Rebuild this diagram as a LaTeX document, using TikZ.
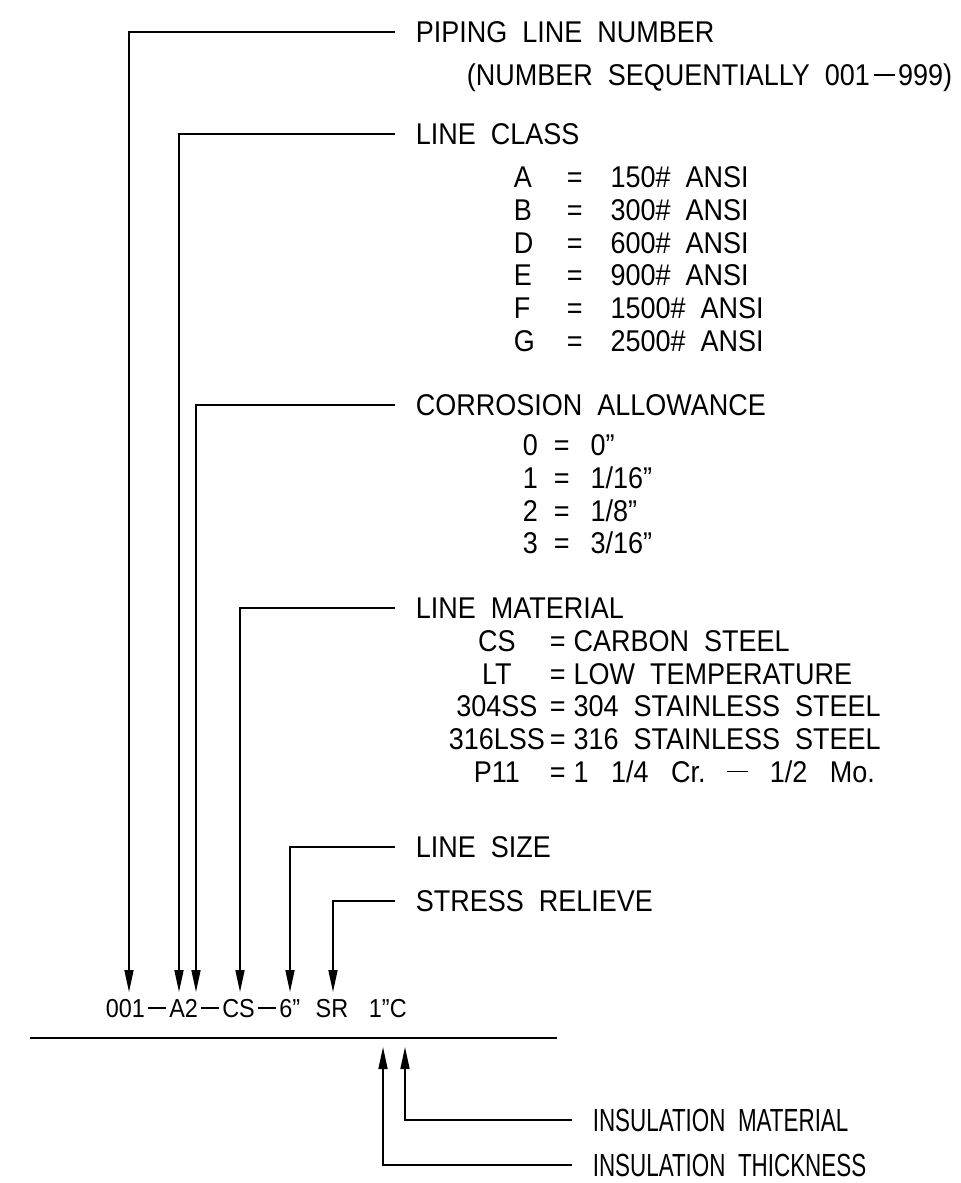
\documentclass[tikz,border=0pt]{standalone}
\usepackage{fontspec}
\setmainfont{Liberation Sans}[FakeStretch=0.9, WordSpace=2]
\newfontfamily\narrowfont{Liberation Sans}[FakeStretch=0.7, WordSpace=2]
\usepackage{array}
\usetikzlibrary{arrows.meta}
\newcommand{\cdash}{\kern0.12em\rule[0.33em]{0.7em}{0.055em}\kern0.12em}

\begin{document}
\begin{tikzpicture}[
  x=0.5pt, y=-0.5pt,
  line width=0.8pt,
  heading/.style={anchor=west, inner xsep=10pt, inner ysep=0pt, text height=10.74pt, text depth=0pt, font=\fontsize{15}{18}\selectfont},
  insul/.style={anchor=west, inner xsep=10pt, inner ysep=0pt, text height=11.46pt, text depth=0pt, font=\narrowfont\fontsize{16}{19}\selectfont},
  tbl/.style={anchor=base west, inner sep=0pt, font=\fontsize{15}{16.35}\selectfont},
  arrow/.style={-{Triangle[length=11pt,width=4.5pt]}}
]
\useasboundingbox (0,0) rectangle (961,1183);

% legend headings
\node[heading] (pln) at (395,32) {PIPING LINE NUMBER};
\node[heading] (seq) at (446,75) {(NUMBER SEQUENTIALLY\hspace{0.5em}001\cdash999)};
\node[heading] (lcls) at (395,134) {LINE CLASS};
\node[heading] (corr) at (395,405) {CORROSION ALLOWANCE};
\node[heading] (mat) at (395,608) {LINE MATERIAL};
\node[heading] (lsize) at (395,847) {LINE SIZE};
\node[heading] (srel) at (395,901) {STRESS RELIEVE};

% code tables
\node[tbl] (lctab) at (513,187.7) {\begin{tabular}[t]{@{}w{l}{26.5pt}@{}c@{\hspace{14pt}}l@{}}
A & = & 150\# ANSI\\
B & = & 300\# ANSI\\
D & = & 600\# ANSI\\
E & = & 900\# ANSI\\
F & = & 1500\# ANSI\\
G & = & 2500\# ANSI
\end{tabular}};
\node[tbl] (catab) at (522,455.7) {\begin{tabular}[t]{@{}w{l}{15.5pt}@{}c@{\hspace{10.5pt}}l@{}}
0 & = & 0”\\
1 & = & 1/16”\\
2 & = & 1/8”\\
3 & = & 3/16”
\end{tabular}};
\node[tbl] (mttab) at (447,651.5) {\begin{tabular}[t]{@{}w{c}{49pt}@{\hspace{2pt}}c@{\hspace{4pt}}l@{}}
CS & = & CARBON STEEL\\
LT & = & LOW TEMPERATURE\\
304SS & = & 304 STAINLESS STEEL\\
316LSS & = & 316 STAINLESS STEEL\\
P11 & = & 1\hspace{0.75em}1/4\hspace{0.75em}Cr.\hspace{0.6em}\cdash\hspace{0.6em}1/2\hspace{0.75em}Mo.
\end{tabular}};

% line designation
\node[anchor=west, inner sep=0pt, text height=9.31pt, text depth=0pt, font=\fontsize{13}{15}\selectfont] (tag) at (105,1008)
  {001\cdash A2\cdash CS\cdash 6”\hspace{0.6em}SR\hspace{0.8em}1”C};
\draw (30,1038) -- (557,1038);

\node[insul] (imat) at (572,1120) {INSULATION MATERIAL};
\node[insul] (ithk) at (572,1165) {INSULATION THICKNESS};

\coordinate (a1) at (129,992);
\coordinate (a2) at (179,992);
\coordinate (a3) at (196,992);
\coordinate (a4) at (240,992);
\coordinate (a5) at (290,992);
\coordinate (a6) at (333,992);
\coordinate (b1) at (383,1047);
\coordinate (b2) at (405,1047);

\draw[arrow] (pln.west) -| (a1);
\draw[arrow] (lcls.west) -| (a2);
\draw[arrow] (corr.west) -| (a3);
\draw[arrow] (mat.west) -| (a4);
\draw[arrow] (lsize.west) -| (a5);
\draw[arrow] (srel.west) -| (a6);
\draw[arrow] (imat.west) -| (b2);
\draw[arrow] (ithk.west) -| (b1);
\end{tikzpicture}
\end{document}
